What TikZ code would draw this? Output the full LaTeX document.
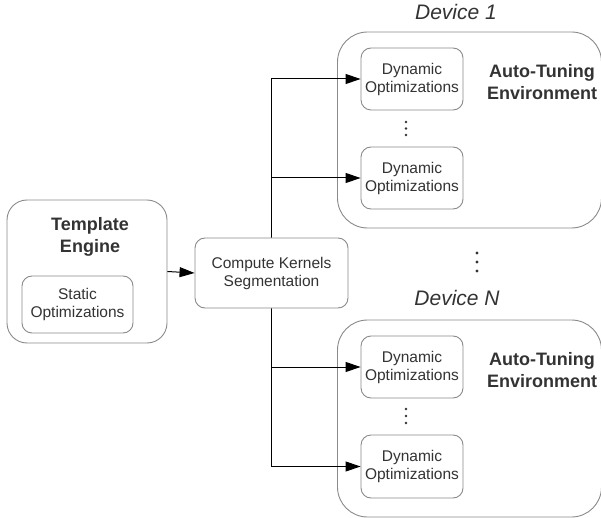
\documentclass[tikz,border=0pt]{standalone}
\usepackage{fontspec}
\setmainfont{Liberation Sans}
\usetikzlibrary{arrows.meta,backgrounds}
\definecolor{frame}{HTML}{8A8A8A}
\definecolor{ink}{HTML}{333333}
\tikzset{
  box/.style={draw=frame, fill=white, line width=0.9pt, rounded corners=#1, inner sep=0pt, align=center},
  box/.default=10pt,
  regtext/.style={font=\fontsize{15.5}{18}\selectfont, text=ink, align=center},
  boldtext/.style={font=\bfseries\fontsize{18}{21.5}\selectfont, text=ink, align=center},
  devtext/.style={font=\itshape\fontsize{21}{24}\selectfont, text=ink},
  link/.style={line width=1pt, draw=black},
  arr/.style={link, -{Triangle[length=15pt,width=10pt]}},
  dot/.style={circle, fill=ink, inner sep=0pt, minimum size=#1},
  dot/.default=2.6pt
}
\begin{document}
\begin{tikzpicture}[x=1pt, y=-1pt]
\useasboundingbox (0,0) rectangle (601,518);
\clip (0,0) rectangle (601,518);

% left block: template engine
\node[box=20pt, minimum width=160pt, minimum height=143pt] (tmpl) at (87,271.5) {};
\node[boldtext] (tmpltitle) at (90,237) {Template\\Engine};
\node[box, regtext, minimum width=111pt, minimum height=57pt] (static) at (77.5,304.5) {Static\\Optimizations};

% segmentation
\node[box, regtext, minimum width=153pt, minimum height=70pt] (cks) at (271.5,273) {Compute Kernels\\Segmentation};

% device 1
\node[box=30pt, minimum width=264pt, minimum height=196pt] (dev1) at (469.5,130) {};
\node[devtext] (dev1lbl) at (456,12) {Device 1};
\node[box, regtext, minimum width=102pt, minimum height=62pt] (d1a) at (412,79) {Dynamic\\Optimizations};
\node[box, regtext, minimum width=102pt, minimum height=62pt] (d1b) at (412,178) {Dynamic\\Optimizations};
\node[boldtext] (auto1) at (542,82) {Auto-Tuning\\Environment};
\node[dot] (s1a) at (406,122) {};
\node[dot] (s1b) at (406,128.5) {};
\node[dot] (s1c) at (406,135) {};

% devices in between
\node[dot=3.2pt] (bga) at (477,253) {};
\node[dot=3.2pt] (bgb) at (477,262) {};
\node[dot=3.2pt] (bgc) at (477,271) {};

% device N
\node[box=30pt, minimum width=264pt, minimum height=197pt] (devN) at (469.5,418.5) {};
\node[devtext] (devNlbl) at (457,298) {Device N};
\node[box, regtext, minimum width=102pt, minimum height=62pt] (dNa) at (412,367) {Dynamic\\Optimizations};
\node[box, regtext, minimum width=102pt, minimum height=63pt] (dNb) at (412,466.5) {Dynamic\\Optimizations};
\node[boldtext] (autoN) at (542,370) {Auto-Tuning\\Environment};
\node[dot] (sNa) at (406,409) {};
\node[dot] (sNb) at (406,416) {};
\node[dot] (sNc) at (406,423) {};

% connectors
\draw[arr] (tmpl.east) -- (cks.west);
\coordinate (jtop) at (271,79);
\coordinate (jbot) at (271,466.5);
\begin{scope}[on background layer]
\draw[link] (jtop) -- (jbot);
\end{scope}
\draw[arr] (jtop) -- (d1a.west);
\draw[arr] (jtop |- d1b.west) -- (d1b.west);
\draw[arr] (jtop |- dNa.west) -- (dNa.west);
\draw[arr] (jbot) -- (dNb.west);
\end{tikzpicture}
\end{document}
